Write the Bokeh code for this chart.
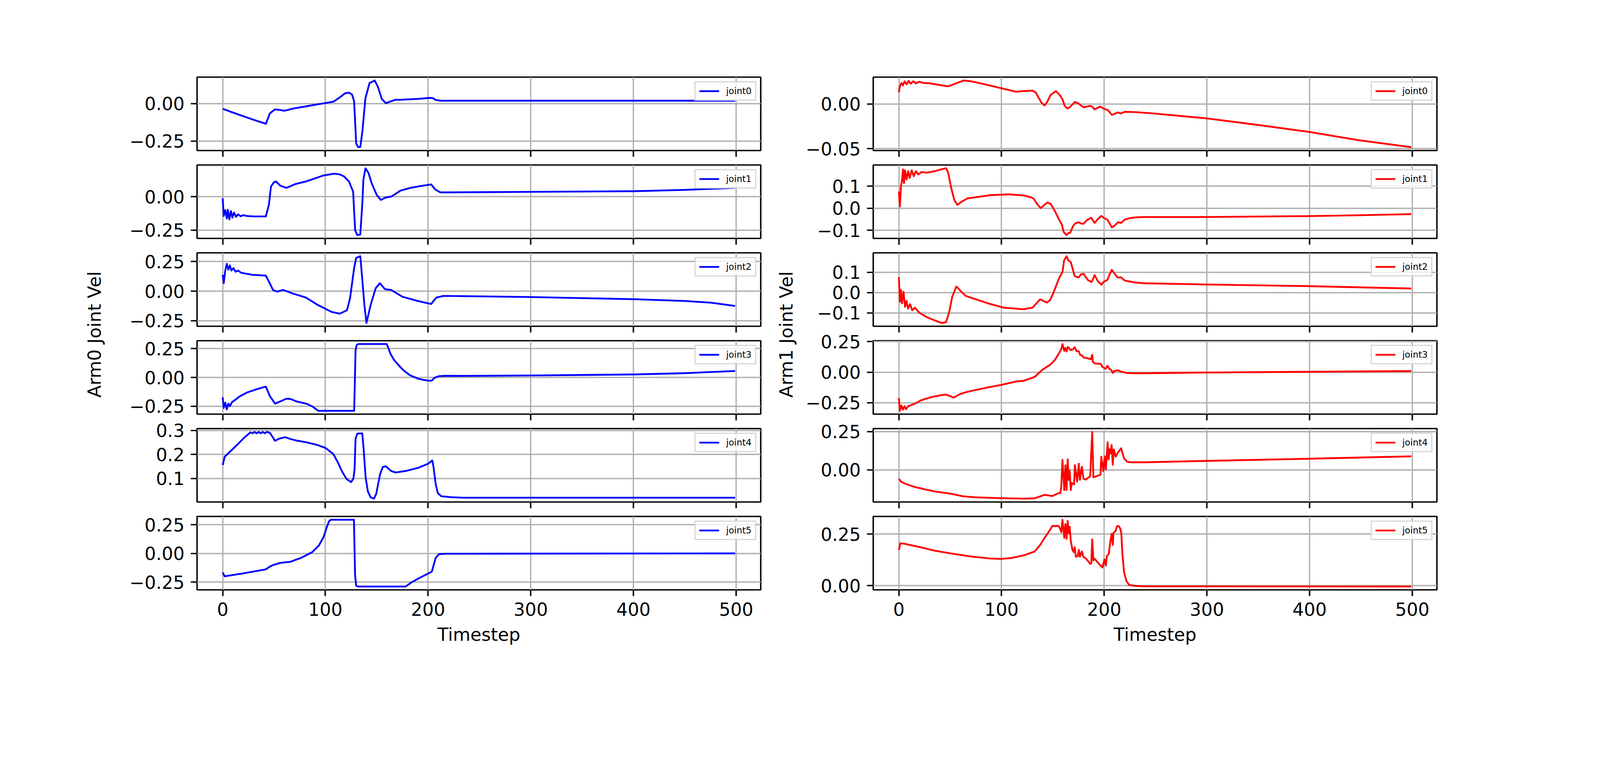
import numpy as np
from bokeh.plotting import figure
from bokeh.layouts import column, row
from bokeh.models import Range1d, FixedTicker, Label, CustomJSTickFormatter
from bokeh.embed import file_html
from bokeh.resources import INLINE

FONT = "DejaVu Sans"

JOINT_NAMES = ["joint0", "joint1", "joint2", "joint3", "joint4", "joint5"]
X_TICKS = [0, 100, 200, 300, 400, 500]
X_LABEL = "Timestep"
ARM0_LABEL = "Arm0 Joint Vel"
ARM1_LABEL = "Arm1 Joint Vel"
ARM0_COLOR = "#0000ff"
ARM1_COLOR = "#ff0000"

ARM0_YTICKS = [[-0.25, 0.0], [-0.25, 0.0], [-0.25, 0.0, 0.25],
               [-0.25, 0.0, 0.25], [0.1, 0.2, 0.3], [-0.25, 0.0, 0.25]]
ARM0_YDEC = [2, 2, 2, 2, 1, 2]
ARM1_YTICKS = [[-0.05, 0.0], [-0.1, 0.0, 0.1], [-0.1, 0.0, 0.1],
               [-0.25, 0.0, 0.25], [0.0, 0.25], [0.0, 0.25]]
ARM1_YDEC = [2, 1, 1, 2, 2, 2]

# ---------------- Arm0 (left, blue) ----------------
A0_J0_T = [0, 10, 19, 30, 42, 46, 51, 55, 60, 64, 68, 80, 90, 100, 108, 114, 119, 123, 126, 128,
           130, 132, 134, 136, 139, 143, 148, 151, 155, 159, 163, 168, 175, 190, 202, 205, 207, 212,
           230, 300, 400, 499]
A0_J0_V = [-0.035, -0.06, -0.082, -0.108, -0.135, -0.065, -0.039, -0.042, -0.048, -0.042, -0.034,
           -0.02, -0.008, 0.003, 0.013, 0.041, 0.068, 0.073, 0.06, 0.013, -0.267, -0.291, -0.289,
           -0.188, 0.036, 0.137, 0.154, 0.114, 0.03, 0.002, 0.013, 0.025, 0.026, 0.031, 0.038, 0.036,
           0.025, 0.019, 0.019, 0.019, 0.019, 0.019]

A0_J1_T = [0, 1, 2.5, 4, 5, 6.5, 8, 9.5, 11, 13, 15, 17.5, 20, 24, 30, 42, 45, 47, 50, 52, 56, 62,
           71, 81, 91, 98, 104, 109, 114, 118, 123, 127, 129, 131, 134, 136, 137, 139, 142, 145, 150,
           154, 157, 159, 164, 168, 173, 183, 192, 203, 207, 212, 222, 302, 401, 450, 499]
A0_J1_V = [-0.011, -0.145, -0.10, -0.164, -0.098, -0.17, -0.107, -0.157, -0.119, -0.151, -0.132,
           -0.147, -0.138, -0.145, -0.148, -0.148, -0.06, 0.077, 0.11, 0.115, 0.084, 0.067, 0.096,
           0.115, 0.141, 0.16, 0.168, 0.174, 0.168, 0.154, 0.115, 0.039, -0.253, -0.288, -0.284,
           -0.049, 0.128, 0.214, 0.179, 0.103, 0.014, -0.024, -0.012, -0.005, 0.001, 0.02, 0.046,
           0.067, 0.08, 0.093, 0.055, 0.033, 0.033, 0.037, 0.042, 0.052, 0.067]

A0_J2_T = [0, 1, 2.5, 4, 5.5, 7, 8.5, 10.5, 12.5, 15, 18, 21, 29, 42, 45, 49, 53, 59, 68, 81, 93,
           106, 114, 121, 124, 128, 130, 134, 135, 138, 140, 144, 149, 153, 158, 164, 175, 190, 203,
           208, 215, 302, 401, 450, 475, 499]
A0_J2_V = [0.138, 0.067, 0.174, 0.231, 0.181, 0.217, 0.174, 0.195, 0.164, 0.174, 0.155, 0.15, 0.138,
           0.131, 0.081, 0.01, -0.004, 0.01, -0.019, -0.054, -0.118, -0.175, -0.19, -0.161, -0.061,
           0.195, 0.281, 0.295, 0.195, -0.118, -0.268, -0.118, 0.024, 0.067, 0.017, 0.01, -0.047,
           -0.083, -0.108, -0.054, -0.04, -0.05, -0.068, -0.083, -0.097, -0.125]

A0_J3_T = [0, 1, 2.5, 4, 5.5, 7, 9, 11.5, 16.5, 24, 34, 42, 46, 51, 56, 62, 66, 72, 82, 87, 92, 93,
           128, 128.6, 129.4, 130.5, 132, 159.7, 161.4, 163.5, 167.3, 173.8, 177.1, 182.5, 190,
           195.5, 200.3, 203.6, 206.3, 210.6, 217.1, 234.4, 302, 401, 450, 499]
A0_J3_V = [-0.172, -0.265, -0.219, -0.278, -0.228, -0.25, -0.215, -0.2, -0.165, -0.13, -0.1, -0.08,
           -0.163, -0.228, -0.209, -0.185, -0.187, -0.209, -0.23, -0.251, -0.283, -0.29, -0.29,
           -0.074, 0.239, 0.281, 0.29, 0.29, 0.253, 0.203, 0.146, 0.082, 0.054, 0.018, -0.01,
           -0.021, -0.028, -0.028, -0.003, 0.011, 0.014, 0.013, 0.017, 0.026, 0.037, 0.056]

A0_J4_T = [0, 2, 6.5, 14, 21, 27, 29, 31, 33, 35, 37, 39, 41, 43, 46, 51, 55, 61, 65.6, 72, 82,
           92.6, 100.2, 107.7, 112, 116.5, 120.8, 125.1, 127.3, 128.4, 129.4, 131.1, 135.9, 137.2,
           139.2, 141.4, 144, 147.3, 149.5, 153.2, 155.9, 158.7, 164.1, 168.4, 179.2, 190, 199.8,
           204.1, 205.2, 207.4, 209.5, 212.8, 222.5, 234.4, 499]
A0_J4_V = [0.156, 0.191, 0.209, 0.24, 0.27, 0.292, 0.288, 0.294, 0.288, 0.294, 0.288, 0.294, 0.288,
           0.294, 0.29, 0.257, 0.266, 0.272, 0.265, 0.258, 0.25, 0.239, 0.227, 0.202, 0.168, 0.127,
           0.097, 0.085, 0.1, 0.138, 0.266, 0.287, 0.288, 0.226, 0.104, 0.046, 0.022, 0.016, 0.036,
           0.117, 0.148, 0.151, 0.131, 0.125, 0.132, 0.144, 0.161, 0.175, 0.151, 0.077, 0.039,
           0.026, 0.022, 0.02, 0.02]

A0_J5_T = [0, 2, 19, 42, 46, 49, 56, 65.6, 76.4, 87.2, 93.7, 98.1, 101.3, 103.5, 105.1, 127.8,
           128.4, 128.9, 130, 131.6, 178.1, 184.6, 191.1, 203.6, 205.2, 207.4, 210.6, 217.1, 234.4,
           499]
A0_J5_V = [-0.167, -0.2, -0.176, -0.139, -0.115, -0.102, -0.083, -0.074, -0.039, 0.011, 0.069,
           0.14, 0.226, 0.279, 0.293, 0.293, 0.033, -0.189, -0.282, -0.289, -0.289, -0.249, -0.217,
           -0.16, -0.11, -0.039, -0.007, -0.003, -0.003, 0.0]

# ---------------- Arm1 (right, red) ----------------
A1_J0_T = [0, 1, 2.5, 4, 5.5, 7.5, 9.5, 11.5, 14, 16.5, 20, 24, 30, 37.5, 48, 56, 63, 70, 84, 99,
           114, 121.4, 130.1, 133.3, 136, 138.7, 142, 144.7, 147.9, 152.8, 156, 159.3, 161.4, 164.1,
           166.8, 171.4, 175, 177.7, 180.4, 186.3, 188.5, 190.6, 196, 199.3, 203.6, 207.4, 209.6,
           213.4, 216.1, 219.9, 229.6, 248, 300, 348, 400, 447, 499]
A1_J0_V = [0.013, 0.0196, 0.0234, 0.0206, 0.0253, 0.0219, 0.0257, 0.0225, 0.0253, 0.023, 0.0247,
           0.0234, 0.023, 0.0215, 0.0196, 0.023, 0.0262, 0.0253, 0.0219, 0.0177, 0.0136, 0.0143,
           0.0149, 0.0127, 0.0072, 0.0016, -0.0018, 0.0029, 0.0103, 0.0142, 0.0109, 0.0053, -0.0021,
           -0.0052, -0.0033, 0.0022, 0.0004, -0.0021, -0.0037, -0.0021, -0.0033, -0.0061, -0.0029,
           -0.0052, -0.007, -0.0122, -0.0113, -0.0095, -0.0107, -0.0088, -0.0091, -0.0106, -0.0162,
           -0.0232, -0.0313, -0.0404, -0.0483]

A1_J1_T = [0, 1, 2, 3, 4, 5, 6, 7.5, 9, 10.5, 12.5, 14.5, 16.5, 19, 22, 27, 35, 41, 46, 48, 51, 54,
           57, 61, 67, 74, 89, 107, 121.4, 129, 131.1, 134.9, 138.2, 141.4, 144.7, 147.9, 151.7, 156,
           158.7, 160.4, 163.1, 165.2, 166.8, 169.5, 171.7, 175, 177.1, 179.8, 183.6, 187.4, 190.6,
           193.9, 197.1, 199.8, 203.1, 207.4, 210.1, 213.4, 216.4, 219.9, 224.2, 229.6, 238.3, 298,
           397, 447, 499]
A1_J1_V = [0.0757, 0.0077, 0.099, 0.122, 0.176, 0.114, 0.172, 0.13, 0.168, 0.137, 0.172, 0.145,
           0.168, 0.153, 0.164, 0.161, 0.168, 0.176, 0.181, 0.161, 0.091, 0.037, 0.015, 0.029, 0.045,
           0.049, 0.059, 0.063, 0.058, 0.049, 0.044, 0.017, 0.0005, 0.014, 0.026, 0.019, -0.011,
           -0.052, -0.074, -0.107, -0.122, -0.113, -0.112, -0.082, -0.069, -0.064, -0.069, -0.071,
           -0.052, -0.044, -0.067, -0.049, -0.035, -0.045, -0.052, -0.087, -0.079, -0.064, -0.067,
           -0.052, -0.046, -0.042, -0.040, -0.040, -0.036, -0.032, -0.027]

A1_J2_T = [0, 1, 2, 3, 4.5, 6, 7.5, 9, 11, 13, 15.5, 20, 27, 35, 42, 46, 49, 52, 56, 60, 65, 72, 87,
           102, 121.4, 130.1, 137.6, 144.1, 147.4, 150.6, 156, 159.3, 160.9, 163.3, 165, 167.4, 171.2,
           172.8, 175.2, 177.1, 179.8, 184.2, 187.6, 188.5, 190.6, 193.9, 197.4, 199.3, 203.1, 205.3,
           207.4, 210.1, 213.2, 216.4, 219.9, 229.6, 238.3, 298, 397, 499]
A1_J2_V = [0.076, -0.045, 0.013, -0.053, 0.005, -0.07, -0.041, -0.078, -0.057, -0.087, -0.074,
           -0.099, -0.12, -0.137, -0.149, -0.145, -0.095, -0.02, 0.03, 0.009, -0.016, -0.028, -0.053,
           -0.074, -0.082, -0.074, -0.033, -0.049, -0.036, 0.0, 0.071, 0.101, 0.158, 0.179, 0.158,
           0.15, 0.082, 0.078, 0.075, 0.089, 0.092, 0.061, 0.052, 0.06, 0.086, 0.055, 0.039, 0.052,
           0.063, 0.09, 0.112, 0.093, 0.074, 0.075, 0.059, 0.05, 0.046, 0.04, 0.032, 0.02]

A1_J3_T = [0, 1, 2.5, 4, 5.5, 7, 9, 11.5, 15, 22, 32, 45, 50, 53, 60, 67, 84, 99, 115, 121.4, 132.2,
           139.8, 147.4, 151.7, 156, 158.2, 159.3, 161.1, 162.2, 163.3, 164.4, 165.8, 167.2, 169.5,
           171.2, 173.1, 175.2, 176.6, 178.2, 179.8, 183.1, 186.9, 188.3, 189, 191.2, 196.6, 198.2,
           201.3, 203.1, 204.7, 206.9, 208.3, 209.6, 213.4, 216.6, 222, 229.6, 238.3, 298, 397, 499]
A1_J3_V = [-0.212, -0.316, -0.272, -0.307, -0.278, -0.302, -0.278, -0.272, -0.26, -0.229, -0.203,
           -0.183, -0.195, -0.209, -0.178, -0.16, -0.129, -0.105, -0.075, -0.071, -0.039, 0.02, 0.061,
           0.097, 0.156, 0.188, 0.23, 0.174, 0.198, 0.169, 0.206, 0.197, 0.18, 0.186, 0.204, 0.171,
           0.171, 0.14, 0.138, 0.12, 0.115, 0.106, 0.142, 0.083, 0.07, 0.068, 0.043, 0.027, 0.052,
           0.029, 0.017, -0.007, 0.009, 0.015, 0.004, -0.007, -0.009, -0.009, -0.003, 0.003, 0.009]

A1_J4_T = [0, 2.5, 7.5, 15, 25, 35, 50, 62, 74, 99, 115, 121.4, 132.2, 142, 149.5, 155, 157.3, 158.2,
           159.3, 161.1, 162.2, 163.3, 164.4, 165.4, 166.3, 167.4, 168.3, 170.6, 171.4, 173.6, 175.2,
           176.3, 178.2, 179.8, 182, 186.3, 188.3, 189.4, 196.3, 197.1, 199.1, 200.4, 201.5, 203.3,
           204.2, 205.3, 206.1, 207.2, 208.3, 209.3, 211.2, 213.4, 216.4, 219.3, 222.6, 226.4, 238.3,
           298, 397, 499]
A1_J4_V = [-0.059, -0.08, -0.094, -0.112, -0.128, -0.142, -0.156, -0.173, -0.18, -0.186, -0.188,
           -0.189, -0.187, -0.164, -0.172, -0.154, -0.152, -0.104, 0.065, -0.133, 0.03, -0.133, 0.069,
           -0.067, -0.006, -0.133, -0.086, -0.096, 0.03, -0.078, 0.04, -0.066, 0.02, -0.059, -0.064,
           -0.042, 0.248, -0.049, -0.033, 0.086, -0.009, 0.088, 0.001, 0.18, 0.067, 0.135, 0.107,
           0.162, 0.033, 0.133, 0.086, 0.114, 0.141, 0.074, 0.052, 0.049, 0.049, 0.058, 0.072, 0.088]

A1_J5_T = [0, 1.5, 5, 20, 35, 50, 70, 89, 99, 109, 121.4, 132.2, 137.6, 142, 146.8, 149.5, 155.5,
           157.1, 158.2, 159.3, 161.1, 162.2, 163.3, 164.4, 165.2, 166.3, 167.4, 169, 170.3, 171.2,
           172.3, 174.1, 175.2, 176.3, 178.2, 179.8, 182, 186.3, 187.4, 188.3, 189.4, 190.6, 196.6,
           198.2, 200.2, 201.5, 202.6, 204.5, 205.6, 207.2, 208.3, 209, 211, 212.3, 213.9, 215.5,
           216.6, 217.7, 219.3, 221.5, 224.2, 229.6, 238.3, 499]
A1_J5_V = [0.173, 0.206, 0.204, 0.188, 0.17, 0.157, 0.142, 0.132, 0.13, 0.134, 0.147, 0.166, 0.198,
           0.233, 0.268, 0.29, 0.29, 0.276, 0.26, 0.32, 0.232, 0.299, 0.227, 0.315, 0.254, 0.287,
           0.219, 0.174, 0.163, 0.187, 0.141, 0.142, 0.174, 0.141, 0.166, 0.139, 0.133, 0.106, 0.109,
           0.225, 0.123, 0.131, 0.096, 0.088, 0.128, 0.098, 0.144, 0.155, 0.203, 0.252, 0.198, 0.257,
           0.265, 0.288, 0.29, 0.278, 0.257, 0.152, 0.066, 0.023, 0.004, -0.001, -0.003, -0.004]

ARM0 = [(A0_J0_T, A0_J0_V), (A0_J1_T, A0_J1_V), (A0_J2_T, A0_J2_V),
        (A0_J3_T, A0_J3_V), (A0_J4_T, A0_J4_V), (A0_J5_T, A0_J5_V)]
ARM1 = [(A1_J0_T, A1_J0_V), (A1_J1_T, A1_J1_V), (A1_J2_T, A1_J2_V),
        (A1_J3_T, A1_J3_V), (A1_J4_T, A1_J4_V), (A1_J5_T, A1_J5_V)]

# ---------------- layout constants (CSS pixels) ----------------
FRAME_W, FRAME_H = 1443, 188
# (top, bottom) border of each panel; frames are 37 px apart
ARM0_BORDERS = [(197, 17), (20, 17), (20, 17), (20, 17), (20, 17), (20, 160)]
ARM1_BORDERS = [(197, 24), (13, 17), (20, 17), (20, 17), (20, 17), (20, 160)]
LAB0_W, LAB1_W = 300, 92
LEFT_BORDER_A0, LEFT_BORDER_A1 = 204, 188
RIGHT_BORDER = 8
TOTAL_H = 6 * FRAME_H + sum(t + b for t, b in ARM0_BORDERS)

TICK_FONT = "46px"
LEGEND_FONT = "23px"
LW = 4.6
SPINE_W = 3.7
GRID_W = 3.4
TICK_OUT = 16


def margin_range(vals):
    lo, hi = min(vals), max(vals)
    pad = 0.05 * (hi - lo)
    return Range1d(lo - pad, hi + pad)


def panel(ts, vs, color, name, yticks, dec, idx, left_border, borders):
    last = idx == 5
    top, bottom = borders
    p = figure(frame_width=FRAME_W, frame_height=FRAME_H,
               min_border_left=left_border, min_border_right=RIGHT_BORDER,
               min_border_top=top, min_border_bottom=bottom,
               x_range=margin_range(ts), y_range=margin_range(vs),
               toolbar_location=None, output_backend="svg")
    p.outline_line_color = "black"
    p.outline_line_width = SPINE_W
    p.grid.grid_line_color = "#b0b0b0"
    p.grid.grid_line_width = GRID_W
    p.xaxis.ticker = FixedTicker(ticks=X_TICKS)
    p.yaxis.ticker = FixedTicker(ticks=yticks)
    p.yaxis.formatter = CustomJSTickFormatter(
        args=dict(d=dec), code="return tick.toFixed(d).replace('-', '\u2212');")
    for ax in (p.xaxis[0], p.yaxis[0]):
        ax.axis_line_color = None
        ax.major_tick_out = TICK_OUT
        ax.major_tick_in = 0
        ax.major_tick_line_width = SPINE_W
        ax.major_tick_line_color = "black"
        ax.minor_tick_line_color = None
        ax.major_label_text_font = FONT
        ax.major_label_text_font_size = TICK_FONT
        ax.major_label_text_color = "black"
        ax.major_label_standoff = 16
    if last:
        p.xaxis.axis_label = X_LABEL
        p.xaxis.axis_label_text_font = FONT
        p.xaxis.axis_label_text_font_size = TICK_FONT
        p.xaxis.axis_label_text_font_style = "normal"
        p.xaxis.axis_label_text_color = "black"
        p.xaxis.axis_label_standoff = 18
    else:
        # tick marks only: the labels of the upper panels are not shown
        p.xaxis.major_label_text_font_size = "1px"
        p.xaxis.major_label_text_color = None
        p.xaxis.major_label_standoff = 0

    p.line(x=ts, y=vs, line_color=color, line_width=LW, line_join="round", legend_label=name)
    lg = p.legend[0]
    lg.location = "top_right"
    lg.margin = 11
    lg.padding = 9
    lg.spacing = 0
    lg.glyph_width = 51
    lg.glyph_height = 26
    lg.label_height = 26
    lg.label_standoff = 18
    lg.label_text_font = FONT
    lg.label_text_font_size = LEGEND_FONT
    lg.label_text_color = "black"
    lg.border_line_color = "#cccccc"
    lg.border_line_width = 3.4
    lg.border_line_alpha = 0.8
    lg.background_fill_alpha = 0.8
    return p


def label_fig(width, cx, cy, text):
    f = figure(width=width, height=TOTAL_H, x_range=Range1d(0, width), y_range=Range1d(0, TOTAL_H),
               x_axis_type=None, y_axis_type=None, toolbar_location=None,
               output_backend="svg", min_border=0)
    f.outline_line_color = None
    f.add_layout(Label(x=cx, y=TOTAL_H - cy, text=text, angle=np.pi / 2,
                       text_align="center", text_baseline="middle",
                       text_font=FONT, text_font_size=TICK_FONT, text_color="black"))
    return f


left_panels = [panel(t, v, ARM0_COLOR, JOINT_NAMES[i], ARM0_YTICKS[i], ARM0_YDEC[i], i,
                     LEFT_BORDER_A0, ARM0_BORDERS[i])
               for i, (t, v) in enumerate(ARM0)]
right_panels = [panel(t, v, ARM1_COLOR, JOINT_NAMES[i], ARM1_YTICKS[i], ARM1_YDEC[i], i,
                      LEFT_BORDER_A1, ARM1_BORDERS[i])
                for i, (t, v) in enumerate(ARM1)]

lab0 = label_fig(LAB0_W, 241, 856, ARM0_LABEL)
lab1 = label_fig(LAB1_W, 57, 856, ARM1_LABEL)

layout = row(lab0, column(*left_panels, spacing=0), lab1, column(*right_panels, spacing=0), spacing=0)

open("out.html", "w").write(file_html(layout, INLINE, title="Joint velocities"))
